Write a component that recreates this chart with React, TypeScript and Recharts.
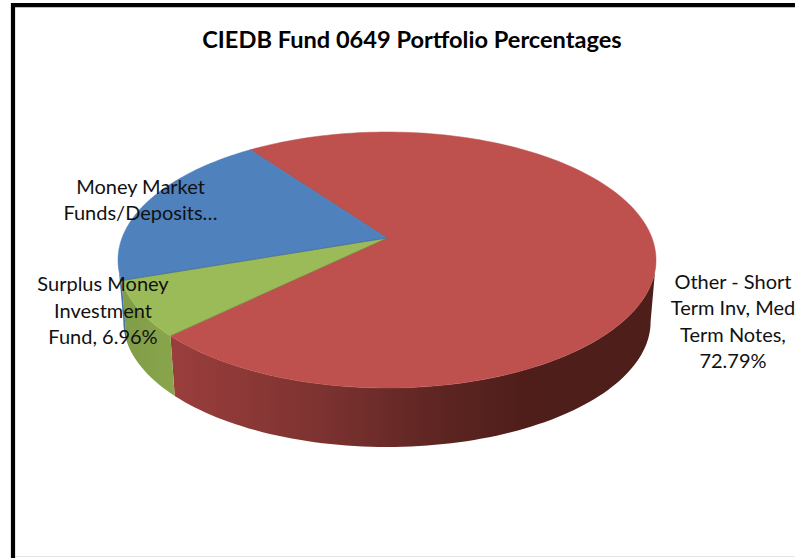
import React from "react";
import { PieChart, Pie, Cell, Customized } from "recharts";

const categories = ["Other - Short Term Inv, Med Term Notes", "Surplus Money Investment Fund", "Money Market Funds/Deposits"];
const shares = [72.79, 6.96, 20.25];
const labelLines = [
  ["Other - Short", "Term Inv, Med", "Term Notes,", "72.79%"],
  ["Surplus Money", "Investment", "Fund, 6.96%"],
  ["Money Market", "Funds/Deposits…"],
];
const title = "CIEDB Fund 0649 Portfolio Percentages";

const rows = categories.map((name, i) => ({ name, value: shares[i], lines: labelLines[i] }));

const topColors = ["#BE504D", "#9BBB59", "#4F81BD"];
const wallFills = ["url(#wallRed)", "url(#wallGreen)", "url(#wallBlue)"];
const labelAnchors = [
  { x: 733, y: 328.5 },
  { x: 103, y: 317.5 },
  { x: 140.5, y: 207 },
];
const FONT = "Lato, sans-serif";
const RX = 265;
const RY = 124.2;
const TILT = 0.1719;
const DEPTH = 62;
const SHRINK = 0.98;
const RAD = Math.PI / 180;

// Tilted-disc projection: angle on the disc -> offset from the apex on screen.
const project = (deg: number) => {
  const c = Math.cos(deg * RAD);
  const s = Math.sin(deg * RAD);
  const w = 1 + TILT * s;
  return { x: (RX * c) / w, y: -(RY * s) / w };
};

const arcPoints = (a0: number, a1: number, cx: number, cy: number, scale = 1, dy = 0) => {
  const n = Math.max(2, Math.ceil(Math.abs(a1 - a0) / 1.5));
  const pts: string[] = [];
  for (let i = 0; i <= n; i++) {
    const p = project(a0 + ((a1 - a0) * i) / n);
    pts.push(`${(cx + p.x * scale).toFixed(2)},${(cy + p.y * scale + dy).toFixed(2)}`);
  }
  return pts;
};

// Wall is visible between these disc angles (front half of the tilted disc).
const WALL_FROM = 180 + Math.asin(TILT) / RAD;
const WALL_TO = 360 - Math.asin(TILT) / RAD;

const wallRange = (a: number, b: number) => {
  const lo = Math.min(a, b);
  const hi = Math.max(a, b);
  const ranges: [number, number][] = [];
  for (const shift of [-360, 0, 360]) {
    const s = Math.max(lo, WALL_FROM + shift);
    const e = Math.min(hi, WALL_TO + shift);
    if (e > s) ranges.push([s, e]);
  }
  return ranges;
};

const DiscSlice = (props: any) => {
  const { cx, cy, startAngle, endAngle, index } = props;
  const arc = arcPoints(startAngle, endAngle, cx, cy);
  return (
    <g>
      {wallRange(startAngle, endAngle).map(([s, e]) => {
        const top = arcPoints(s, e, cx, cy);
        const bottom = arcPoints(e, s, cx, cy, SHRINK, DEPTH);
        return <polygon key={s} points={[...top, ...bottom].join(" ")} fill={wallFills[index]} stroke="none" />;
      })}
      <polygon
        points={[`${cx},${cy}`, ...arc].join(" ")}
        fill={topColors[index]}
        stroke={topColors[index]}
        strokeWidth={0.5}
        strokeLinejoin="round"
      />
      <line
        x1={cx}
        y1={cy}
        x2={cx + project(startAngle).x}
        y2={cy + project(startAngle).y}
        stroke="#000"
        strokeOpacity={0.18}
        strokeWidth={1}
      />
    </g>
  );
};

const SliceLabel = (props: any) => {
  const { index } = props;
  const a = labelAnchors[index];
  const lines = labelLines[index];
  const lineH = 26.6;
  const y0 = a.y - ((lines.length - 1) * lineH) / 2;
  return (
    <text textAnchor="middle" fontFamily={FONT} fontSize={20} fill="#111">
      {lines.map((l, i) => (
        <tspan key={l} x={a.x} y={y0 + i * lineH}>
          {l}
        </tspan>
      ))}
    </text>
  );
};

const Frame = () => (
  <g>
    <defs>
      <linearGradient id="wallRed" gradientUnits="userSpaceOnUse" x1="172" y1="0" x2="655" y2="0">
        <stop offset="0" stopColor="#9A3E3C" />
        <stop offset="0.3" stopColor="#7D3331" />
        <stop offset="0.55" stopColor="#5E2522" />
        <stop offset="0.72" stopColor="#4F1E1B" />
        <stop offset="1" stopColor="#4E1E1B" />
      </linearGradient>
      <linearGradient id="wallGreen" gradientUnits="userSpaceOnUse" x1="120" y1="0" x2="178" y2="0">
        <stop offset="0" stopColor="#7F9C47" />
        <stop offset="1" stopColor="#8AA64C" />
      </linearGradient>
      <linearGradient id="wallBlue" gradientUnits="userSpaceOnUse" x1="118" y1="0" x2="130" y2="0">
        <stop offset="0" stopColor="#3F6EA6" />
        <stop offset="1" stopColor="#4676AE" />
      </linearGradient>
    </defs>
    <line x1={15} y1={556.5} x2={795} y2={556.5} stroke="#e4e4e4" strokeWidth={1} />
    <line x1={13} y1={3} x2={13} y2={558} stroke="#000" strokeWidth={4.2} />
    <line x1={11} y1={5.2} x2={795} y2={5.2} stroke="#000" strokeWidth={4.2} />
    <text x={412} y={48} textAnchor="middle" fontFamily={FONT} fontWeight={700} fontSize={23.6} fill="#000">
      {title}
    </text>
  </g>
);

export default function App() {
  return (
    <div style={{ position: "absolute", left: 0, top: 0, width: 795, height: 558, background: "#fff" }}>
      <PieChart width={795} height={558} margin={{ top: 0, right: 0, bottom: 0, left: 0 }}>
        <Customized component={Frame} />
        <Pie
          data={rows}
          dataKey="value"
          nameKey="name"
          cx={387}
          cy={238}
          innerRadius={0}
          outerRadius={120}
          startAngle={126}
          endAngle={-234}
          paddingAngle={0}
          stroke="none"
          isAnimationActive={false}
          shape={DiscSlice}
          label={SliceLabel}
          labelLine={false}
          rootTabIndex={-1}
        >
          {rows.map((r, i) => (
            <Cell key={r.name} fill={topColors[i]} />
          ))}
        </Pie>
      </PieChart>
    </div>
  );
}
